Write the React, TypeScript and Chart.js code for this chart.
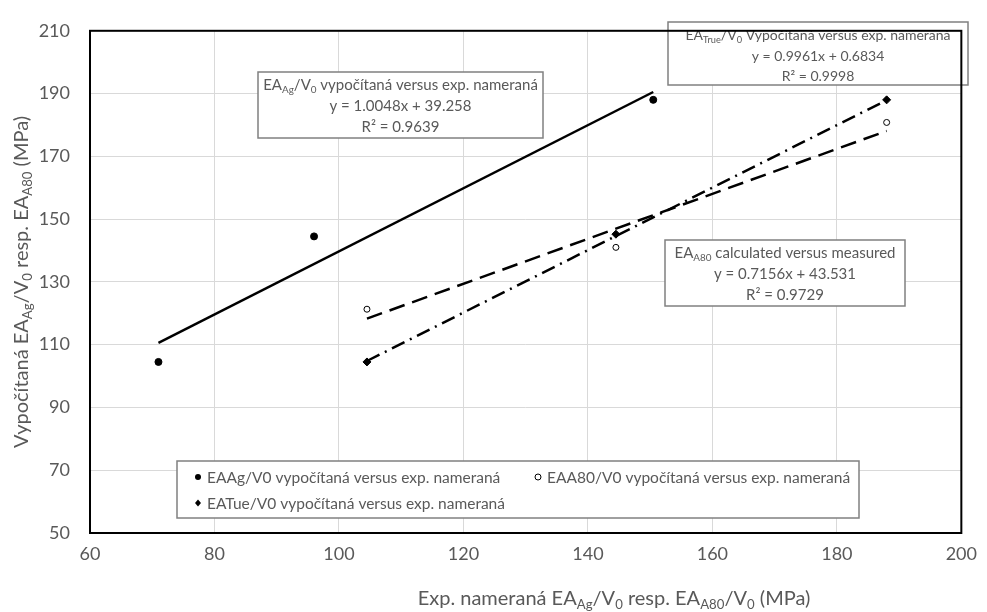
import { useEffect, useRef } from "react";
import { Chart, registerables } from "chart.js";

Chart.register(...registerables);

// ---- data ----
const agX = [71, 96, 150.5];
const agY = [104.5, 144.5, 188.0];
const a80X = [104.5, 144.5, 188];
const a80Y = [121.3, 141.0, 180.8];
const trueX = [104.5, 144.5, 188];
const trueY = [104.5, 145.2, 188.0];

const agTrendX = [71, 150.5];
const agTrendY = [110.6, 190.5];
const a80TrendX = [104.5, 188];
const a80TrendY = [118.3, 178.1];
const trueTrendX = [104.5, 188];
const trueTrendY = [104.8, 187.9];

const xMin = 60, xMax = 200, xStep = 20;
const yMin = 50, yMax = 210, yStep = 20;

const legendLabels = [
  "EAAg/V0 vypočítaná versus exp. nameraná",
  "EAA80/V0 vypočítaná versus exp. nameraná",
  "EATue/V0 vypočítaná versus exp. nameraná",
];

type Run = { t: string; sub?: boolean };
const FONT = "Lato, 'Open Sans', sans-serif";
const TXT = "#595959";

const noteAg: Run[][] = [
  [{ t: "EA" }, { t: "Ag", sub: true }, { t: "/V" }, { t: "0", sub: true }, { t: " vypočítaná versus exp. nameraná" }],
  [{ t: "y = 1.0048x + 39.258" }],
  [{ t: "R² = 0.9639" }],
];
const noteTrue: Run[][] = [
  [{ t: "EA" }, { t: "True", sub: true }, { t: "/V" }, { t: "0", sub: true }, { t: " Vypočítaná versus exp. nameraná" }],
  [{ t: "y = 0.9961x + 0.6834" }],
  [{ t: "R² = 0.9998" }],
];
const noteA80: Run[][] = [
  [{ t: "EA" }, { t: "A80", sub: true }, { t: " calculated versus measured" }],
  [{ t: "y = 0.7156x + 43.531" }],
  [{ t: "R² = 0.9729" }],
];
const yTitle: Run[] = [
  { t: "Vypočítaná EA" }, { t: "Ag", sub: true }, { t: "/V" }, { t: "0", sub: true },
  { t: " resp. EA" }, { t: "A80", sub: true }, { t: " (MPa)" },
];
const xTitle: Run[] = [
  { t: "Exp. nameraná EA" }, { t: "Ag", sub: true }, { t: "/V" }, { t: "0", sub: true },
  { t: " resp. EA" }, { t: "A80", sub: true }, { t: "/V" }, { t: "0", sub: true }, { t: " (MPa)" },
];

function pts(xs: number[], ys: number[]) {
  return xs.map((x, i) => ({ x, y: ys[i] }));
}

function runsWidth(ctx: CanvasRenderingContext2D, runs: Run[], size: number) {
  let w = 0;
  for (const r of runs) {
    ctx.font = `${r.sub ? size * 0.66 : size}px ${FONT}`;
    w += ctx.measureText(r.t).width;
  }
  return w;
}

function drawRuns(ctx: CanvasRenderingContext2D, runs: Run[], cx: number, y: number, size: number, align: "center" | "left" = "center") {
  const w = runsWidth(ctx, runs, size);
  let x = align === "center" ? cx - w / 2 : cx;
  ctx.textAlign = "left";
  ctx.textBaseline = "alphabetic";
  for (const r of runs) {
    ctx.font = `${r.sub ? size * 0.66 : size}px ${FONT}`;
    ctx.fillText(r.t, x, r.sub ? y + size * 0.22 : y);
    x += ctx.measureText(r.t).width;
  }
}

function drawNote(ctx: CanvasRenderingContext2D, lines: Run[][], l: number, t: number, r: number, b: number, size: number, lineYs: number[]) {
  ctx.save();
  ctx.fillStyle = "#ffffff";
  ctx.fillRect(l, t, r - l, b - t);
  ctx.strokeStyle = "#808080";
  ctx.lineWidth = 1.5;
  ctx.strokeRect(l, t, r - l, b - t);
  ctx.fillStyle = TXT;
  const cx = (l + r) / 2;
  lines.forEach((ln, i) => drawRuns(ctx, ln, cx, lineYs[i], size));
  ctx.restore();
}

const overlay = {
  id: "overlay",
  afterDatasetsDraw(chart: any) {
    const ctx: CanvasRenderingContext2D = chart.ctx;
    const a = chart.chartArea;
    // annotation boxes
    drawNote(ctx, noteAg, 258, 72, 543, 138, 15, [90, 111, 132]);
    drawNote(ctx, noteTrue, 668, 22, 968, 85, 14, [40, 61, 81]);
    drawNote(ctx, noteA80, 665, 240, 905, 306, 15, [258, 279, 300]);

    // legend
    ctx.save();
    ctx.fillStyle = "#ffffff";
    ctx.fillRect(177, 461, 682, 57);
    ctx.strokeStyle = "#808080";
    ctx.lineWidth = 1.5;
    ctx.strokeRect(177, 461, 682, 57);
    const items = [
      { x: 198, y: 477, kind: "fill" },
      { x: 538, y: 477, kind: "open" },
      { x: 198, y: 503, kind: "diamond" },
    ];
    items.forEach((it, i) => {
      ctx.fillStyle = "#000";
      ctx.strokeStyle = "#000";
      ctx.lineWidth = 1;
      ctx.beginPath();
      if (it.kind === "diamond") {
        ctx.moveTo(it.x, it.y - 3.5);
        ctx.lineTo(it.x + 3, it.y);
        ctx.lineTo(it.x, it.y + 3.5);
        ctx.lineTo(it.x - 3, it.y);
        ctx.closePath();
        ctx.fill();
      } else {
        ctx.arc(it.x, it.y, 3, 0, Math.PI * 2);
        if (it.kind === "fill") ctx.fill();
        else { ctx.fillStyle = "#fff"; ctx.fill(); ctx.stroke(); }
      }
      ctx.fillStyle = TXT;
      ctx.font = `15.5px ${FONT}`;
      ctx.textAlign = "left";
      ctx.textBaseline = "middle";
      ctx.fillText(legendLabels[i], it.x + 9, it.y + 1);
    });
    ctx.restore();

    // plot border
    ctx.save();
    ctx.strokeStyle = "#000";
    ctx.lineWidth = 2;
    ctx.strokeRect(a.left, a.top, a.right - a.left, a.bottom - a.top);
    ctx.restore();

    // axis titles
    ctx.save();
    ctx.fillStyle = TXT;
    drawRuns(ctx, xTitle, 614, 605, 20);
    ctx.translate(28, (a.top + a.bottom) / 2);
    ctx.rotate(-Math.PI / 2);
    drawRuns(ctx, yTitle, 0, 0, 20);
    ctx.restore();
  },
};

export default function App() {
  const ref = useRef<HTMLCanvasElement>(null);
  useEffect(() => {
    if (!ref.current) return;
    const chart = new Chart(ref.current, {
      type: "scatter",
      data: {
        datasets: [
          { label: "agTrend", data: pts(agTrendX, agTrendY), showLine: true, borderColor: "#000", borderWidth: 2.5, pointRadius: 0 },
          { label: "a80Trend", data: pts(a80TrendX, a80TrendY), showLine: true, borderColor: "#000", borderWidth: 2.5, borderDash: [16, 8], pointRadius: 0 },
          { label: "trueTrend", data: pts(trueTrendX, trueTrendY), showLine: true, borderColor: "#000", borderWidth: 2.5, borderDash: [14, 6, 2, 6], pointRadius: 0 },
          { label: legendLabels[0], data: pts(agX, agY), pointRadius: 3.5, pointBackgroundColor: "#000", pointBorderColor: "#000", pointBorderWidth: 1, showLine: false },
          { label: legendLabels[1], data: pts(a80X, a80Y), pointRadius: 3, pointBackgroundColor: "#fff", pointBorderColor: "#000", pointBorderWidth: 1, showLine: false },
          { label: legendLabels[2], data: pts(trueX, trueY), pointStyle: "rectRot", pointRadius: 4, pointBackgroundColor: "#000", pointBorderColor: "#000", pointBorderWidth: 1, showLine: false },
        ],
      },
      options: {
        responsive: false,
        animation: false,
        events: [],
        layout: { padding: { top: 20, right: 17, left: 0, bottom: 0 } },
        plugins: { legend: { display: false }, tooltip: { enabled: false } },
        scales: {
          x: {
            type: "linear",
            min: xMin,
            max: xMax,
            ticks: { stepSize: xStep, color: TXT, font: { family: FONT, size: 18 }, padding: 10, maxRotation: 0 },
            grid: { color: "#d9d9d9", lineWidth: 1, drawTicks: false },
            border: { display: false },
            afterFit: (s: any) => { s.height = 79; },
          },
          y: {
            type: "linear",
            min: yMin,
            max: yMax,
            ticks: { stepSize: yStep, color: TXT, font: { family: FONT, size: 18 }, padding: 20 },
            grid: { color: "#d9d9d9", lineWidth: 1, drawTicks: false },
            border: { display: false },
            afterFit: (s: any) => { s.width = 90; },
          },
        },
      },
      plugins: [overlay],
    } as any);
    return () => chart.destroy();
  }, []);
  return (
    <div style={{ position: "absolute", left: 0, top: 0, width: 987, height: 612, background: "#fff" }}>
      <canvas ref={ref} width={987} height={612} />
    </div>
  );
}
